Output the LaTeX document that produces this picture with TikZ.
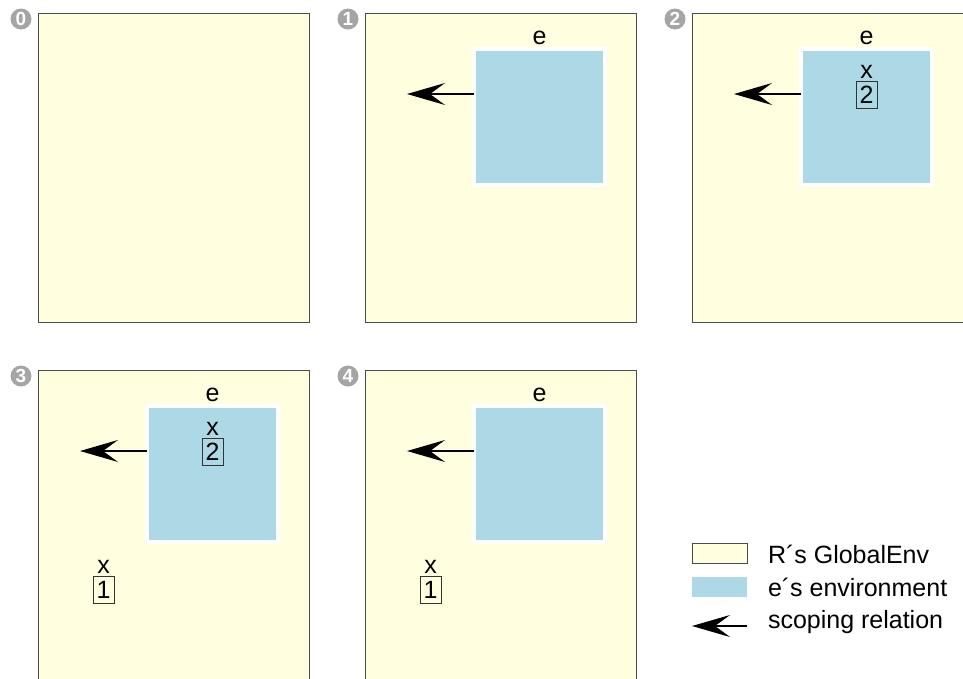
\documentclass[tikz,border=0pt]{standalone}
\usepackage{fontspec}
\setmainfont{Liberation Sans}
\usetikzlibrary{arrows.meta}
\usetikzlibrary{positioning}

\definecolor{globalenv}{RGB}{255,255,224}
\definecolor{envblue}{RGB}{173,216,230}
\definecolor{badgegray}{RGB}{165,165,165}

\begin{document}
\begin{tikzpicture}[x=1pt,y=-1pt,
	every node/.style={font=\fontsize{25}{29}\selectfont,inner sep=0pt,outer sep=0pt},
	panel/.style={rectangle,fill=globalenv,draw=black!70,line width=1pt,minimum width=271pt,minimum height=309pt,anchor=north west},
	envbox/.style={rectangle,fill=envblue,draw=white,line width=4pt,minimum width=131pt,minimum height=136pt},
	badge/.style={circle,fill=badgegray,text=white,minimum size=21pt,font=\fontsize{19}{19}\selectfont\bfseries},
	valbox/.style={rectangle,draw=black!80,line width=0.8pt,minimum width=21pt,minimum height=27pt},
	scoping/.style={-{Stealth[length=38pt,width=22pt,inset=15pt]},line width=1.5pt}]
	\useasboundingbox (0,0) rectangle (963,678);
	\clip (0,0) rectangle (963,678);
	% panels and step numbers
	\foreach \i/\px/\py in {0/38/13,1/365/13,2/692/13,3/38/370,4/365/370} {
		\node [panel] (p\i) at (\px,\py) {};
		\node [badge] (b\i) at (\px-17,\py+6) {\i};
	}
	% environment of e
	\foreach \i in {1,...,4} {
		\node [envbox,below right=36pt and 109pt of p\i.north west] (env\i) {};
		\node [above=4.5pt of env\i] (e\i) {e};
		\coordinate [below right=81pt and 42pt of p\i.north west] (tip\i);
		\draw [scoping] (tip\i -| env\i.west) -- (tip\i);
	}
	% x <- 2 inside e
	\foreach \i in {2,3} {
		\node [valbox,below=32.5pt of env\i.north] (two\i) {2};
		\node [above=3pt of two\i] (xtwo\i) {x};
	}
	% x <- 1 in the global env
	\foreach \i in {3,4} {
		\node [valbox,below right=206.5pt and 55pt of p\i.north west] (one\i) {1};
		\node [above=3pt of one\i] (xone\i) {x};
	}
	% legend
	\node [rectangle,fill=globalenv,draw=black!70,line width=1pt,minimum width=55pt,minimum height=20pt] (keyR) at (719.5,553) {};
	\node [rectangle,fill=envblue,minimum width=55pt,minimum height=20pt] (keyE) at (719.5,587) {};
	\coordinate (keyA) at (747,626);
	\coordinate (keyAtip) at (692,626);
	\draw [scoping] (keyA) -- (keyAtip);
	\node [anchor=base west] (txtR) at (768,563) {R´s GlobalEnv};
	\node [anchor=base west] (txtE) at (768,596) {e´s environment};
	\node [anchor=base west] (txtA) at (768,628) {scoping relation};
\end{tikzpicture}
\end{document}
